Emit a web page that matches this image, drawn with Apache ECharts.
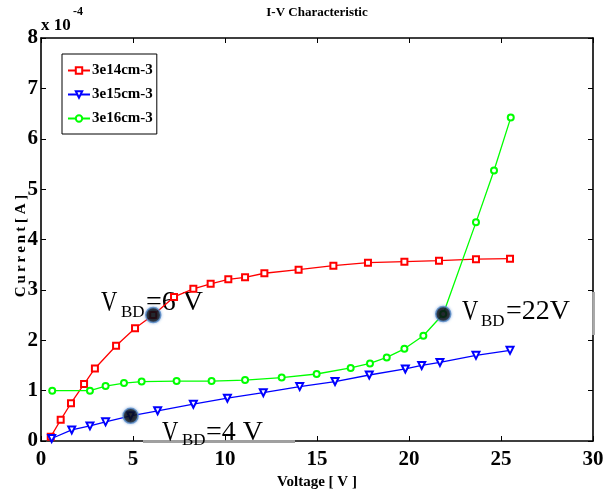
<!DOCTYPE html>
<html>
<head>
<meta charset="utf-8">
<script src="https://cdn.jsdelivr.net/npm/echarts@6/dist/echarts.min.js"></script>
<style>html,body{margin:0;padding:0;background:#fff}#c{width:603px;height:493px}</style>
</head>
<body>
<div id="c"></div>
<script>
// Current values are in units of 1e-4 A
const seriesNames = ['3e14cm-3', '3e15cm-3', '3e16cm-3'];
const voltRed = [0.53,1.07,1.63,2.34,2.93,4.08,5.11,6.1,7.23,8.28,9.22,10.18,11.09,12.14,14.0,15.89,17.77,19.75,21.63,23.64,25.49];
const currRed = [0.085,0.42,0.75,1.13,1.44,1.89,2.24,2.5,2.86,3.02,3.12,3.21,3.25,3.33,3.40,3.48,3.54,3.56,3.58,3.61,3.62];
const voltBlue = [0.58,1.67,2.66,3.51,4.87,6.34,8.28,10.13,12.08,14.06,15.98,17.84,19.80,20.69,21.68,23.64,25.49];
const currBlue = [0.05,0.22,0.30,0.38,0.50,0.60,0.73,0.85,0.96,1.08,1.18,1.31,1.43,1.50,1.56,1.70,1.80];
const voltGreen = [0.61,2.66,3.51,4.51,5.47,7.37,9.27,11.09,13.08,14.98,16.83,17.88,18.79,19.75,20.78,21.86,23.64,24.62,25.53];
const currGreen = [1.0,1.0,1.09,1.15,1.18,1.19,1.19,1.21,1.26,1.33,1.45,1.54,1.66,1.83,2.09,2.52,4.34,5.37,6.42];
const bdVolt = [6.1, 4.87, 21.86];
const bdCurr = [2.5, 0.50, 2.52];
const xTicks = [0,5,10,15,20,25,30];
const yTicks = [0,1,2,3,4,5,6,7,8];

const zip = (a, b) => a.map((v, i) => [v, b[i]]);
const serif = 'Liberation Serif';
const chart = echarts.init(document.getElementById('c'), null, {renderer: 'canvas'});

const axisCommon = {
  axisLine: {show: true, onZero: false, lineStyle: {color: '#000', width: 1.6}},
  axisTick: {show: true, inside: true, length: 5, lineStyle: {color: '#000', width: 1}},
  splitLine: {show: false}
};

chart.setOption({
  animation: false,
  backgroundColor: '#fff',
  grid: {left: 41, right: 10, top: 38, bottom: 52, containLabel: false, outerBoundsMode: 'none'},
  legend: {
    data: seriesNames,
    orient: 'vertical',
    left: 62, top: 54,
    padding: [9, 4, 8, 5],
    itemGap: 9,
    itemWidth: 22, itemHeight: 8,
    borderColor: '#000', borderWidth: 1,
    backgroundColor: '#fff',
    textStyle: {fontFamily: serif, fontWeight: 'bold', fontSize: 15, color: '#000', padding: [0,0,0,-3]}
  },
  xAxis: [
    Object.assign({
      type: 'value', min: xTicks[0], max: xTicks[xTicks.length-1], interval: 5,
      name: 'Voltage [ V ]', nameLocation: 'middle', nameGap: 33,
      nameTextStyle: {fontFamily: serif, fontWeight: 'bold', fontSize: 15, color: '#000'},
      axisLabel: {fontFamily: serif, fontWeight: 'bold', fontSize: 21, color: '#000', margin: 8}
    }, axisCommon),
    Object.assign({
      type: 'value', position: 'top', min: xTicks[0], max: xTicks[xTicks.length-1], interval: 5,
      axisLabel: {show: false}
    }, axisCommon)
  ],
  yAxis: [
    Object.assign({
      type: 'value', min: yTicks[0], max: yTicks[yTicks.length-1], interval: 1,
      axisLabel: {fontFamily: serif, fontWeight: 'bold', fontSize: 21, color: '#000', margin: 3}
    }, axisCommon),
    Object.assign({
      type: 'value', position: 'right', min: yTicks[0], max: yTicks[yTicks.length-1], interval: 1,
      axisLabel: {show: false}
    }, axisCommon)
  ],
  series: [
    {name: seriesNames[0], type: 'line', data: zip(voltRed, currRed), color: '#ff0000',
     symbol: 'emptyRect', symbolSize: 6, lineStyle: {width: 1.3}, itemStyle: {borderWidth: 1.2}},
    {name: seriesNames[1], type: 'line', data: zip(voltBlue, currBlue), color: '#0000ff',
     symbol: 'emptyTriangle', symbolRotate: 180, symbolSize: 7, lineStyle: {width: 1.3}, itemStyle: {borderWidth: 1.2}},
    {name: seriesNames[2], type: 'line', data: zip(voltGreen, currGreen), color: '#00ff00',
     symbol: 'emptyCircle', symbolSize: 6, lineStyle: {width: 1.3}, itemStyle: {borderWidth: 1.2}},
    {name: 'VBD', type: 'scatter', data: zip(bdVolt, bdCurr), symbolSize: 15, z: 5,
     itemStyle: {color: '#000', borderColor: '#5b8fcc', borderWidth: 1.5, shadowBlur: 3, shadowColor: 'rgba(90,140,210,0.6)'}}
  ],
  graphic: [
    {type: 'text', x: 317, y: 13, z: 100, style: {text: 'I-V Characteristic', fontFamily: serif, fontWeight: 'bold', fontSize: 13, fill: '#000', align: 'center', verticalAlign: 'middle'}},
    {type: 'text', x: 41, y: 26, z: 100, style: {text: 'x 10', fontFamily: serif, fontWeight: 'bold', fontSize: 17, fill: '#000', align: 'left', verticalAlign: 'middle'}},
    {type: 'text', x: 73, y: 12, z: 100, style: {text: '-4', fontFamily: serif, fontWeight: 'bold', fontSize: 12, fill: '#000', align: 'left', verticalAlign: 'middle'}},
    {type: 'text', x: 21, y: 246, z: 100, rotation: Math.PI / 2, style: {text: 'C\u2009u\u2009r\u2009r\u2009e\u2009n\u2009t [ A ]', fontFamily: serif, fontWeight: 'bold', fontSize: 15, fill: '#000', align: 'center', verticalAlign: 'middle'}},
    // gray box edges replacing axes near annotations
    {type: 'line', z: 100, shape: {x1: 143, y1: 442, x2: 295, y2: 442}, style: {stroke: '#fff', lineWidth: 3}},
    {type: 'line', z: 101, shape: {x1: 143, y1: 442, x2: 295, y2: 442}, style: {stroke: '#a0a0a0', lineWidth: 1.8}},
    {type: 'line', z: 100, shape: {x1: 594, y1: 292, x2: 594, y2: 335}, style: {stroke: '#fff', lineWidth: 3}},
    {type: 'line', z: 101, shape: {x1: 594, y1: 292, x2: 594, y2: 335}, style: {stroke: '#a0a0a0', lineWidth: 1.8}},
    // annotations
    {type: 'text', x: 101, y: 303, z: 1, scaleX: 0.78, style: {text: 'V', fontFamily: serif, fontSize: 29, fill: '#000', verticalAlign: 'middle'}},
    {type: 'text', x: 121, y: 313, z: 1, style: {text: 'BD', fontFamily: serif, fontSize: 17, fill: '#000', verticalAlign: 'middle'}},
    {type: 'text', x: 146, y: 303, z: 1, style: {text: '=6 V', fontFamily: serif, fontSize: 28, fill: '#000', verticalAlign: 'middle'}},
    {type: 'text', x: 162, y: 433, z: 102, scaleX: 0.78, style: {text: 'V', fontFamily: serif, fontSize: 29, fill: '#000', verticalAlign: 'middle'}},
    {type: 'text', x: 182, y: 441, z: 102, style: {text: 'BD', fontFamily: serif, fontSize: 17, fill: '#000', verticalAlign: 'middle'}},
    {type: 'text', x: 206, y: 433, z: 102, style: {text: '=4 V', fontFamily: serif, fontSize: 28, fill: '#000', verticalAlign: 'middle'}},
    {type: 'text', x: 462, y: 312, z: 102, scaleX: 0.78, style: {text: 'V', fontFamily: serif, fontSize: 29, fill: '#000', verticalAlign: 'middle'}},
    {type: 'text', x: 481, y: 322, z: 102, style: {text: 'BD', fontFamily: serif, fontSize: 17, fill: '#000', verticalAlign: 'middle'}},
    {type: 'text', x: 506, y: 312, z: 102, style: {text: '=22V', fontFamily: serif, fontSize: 28, fill: '#000', verticalAlign: 'middle'}}
  ]
});
</script>
</body>
</html>
